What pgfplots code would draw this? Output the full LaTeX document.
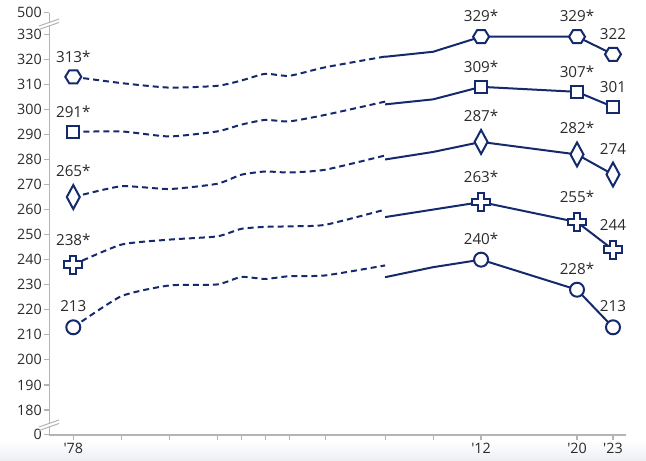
\documentclass[border=0pt]{standalone}
\usepackage{fontspec}
\setmainfont{Open Sans}[Ligatures=TeXOff]
\usepackage{pgfplots}
\usepackage{pgfplotstable}
\pgfplotsset{compat=1.18}
\definecolor{navy}{HTML}{15296D}
\definecolor{axgray}{HTML}{B4B4B4}
\definecolor{txt}{HTML}{2A2A2A}

\pgfdeclareplotmark{hexa}{%
 \pgfpathmoveto{\pgfqpoint{-8pt}{0pt}}%
 \pgfpathlineto{\pgfqpoint{-4pt}{6.5pt}}%
 \pgfpathlineto{\pgfqpoint{4pt}{6.5pt}}%
 \pgfpathlineto{\pgfqpoint{8pt}{0pt}}%
 \pgfpathlineto{\pgfqpoint{4pt}{-6.5pt}}%
 \pgfpathlineto{\pgfqpoint{-4pt}{-6.5pt}}%
 \pgfpathclose\pgfusepathqfillstroke}
\pgfdeclareplotmark{sq}{%
 \pgfpathrectangle{\pgfqpoint{-6pt}{-6pt}}{\pgfqpoint{12pt}{12pt}}%
 \pgfusepathqfillstroke}
\pgfdeclareplotmark{circ}{%
 \pgfpathcircle{\pgfpointorigin}{7pt}%
 \pgfusepathqfillstroke}
\pgfdeclareplotmark{dia}{%
 \pgfpathmoveto{\pgfqpoint{0pt}{12pt}}%
 \pgfpathlineto{\pgfqpoint{6.5pt}{0pt}}%
 \pgfpathlineto{\pgfqpoint{0pt}{-12pt}}%
 \pgfpathlineto{\pgfqpoint{-6.5pt}{0pt}}%
 \pgfpathclose\pgfusepathqfillstroke}
\pgfdeclareplotmark{crs}{%
 \pgfpathmoveto{\pgfqpoint{-3.2pt}{9pt}}%
 \pgfpathlineto{\pgfqpoint{3.2pt}{9pt}}%
 \pgfpathlineto{\pgfqpoint{3.2pt}{3.2pt}}%
 \pgfpathlineto{\pgfqpoint{9pt}{3.2pt}}%
 \pgfpathlineto{\pgfqpoint{9pt}{-3.2pt}}%
 \pgfpathlineto{\pgfqpoint{3.2pt}{-3.2pt}}%
 \pgfpathlineto{\pgfqpoint{3.2pt}{-9pt}}%
 \pgfpathlineto{\pgfqpoint{-3.2pt}{-9pt}}%
 \pgfpathlineto{\pgfqpoint{-3.2pt}{-3.2pt}}%
 \pgfpathlineto{\pgfqpoint{-9pt}{-3.2pt}}%
 \pgfpathlineto{\pgfqpoint{-9pt}{3.2pt}}%
 \pgfpathlineto{\pgfqpoint{-3.2pt}{3.2pt}}%
 \pgfpathclose\pgfusepathqfillstroke}

% old assessment format (dashed)
\pgfplotstableread{
year p10 p25 p50 p75 p90
1978 213 238 265 291 313
1982 225.4 246 269.3 291.2 310.5
1986 229.7 248 268.2 289.2 308.7
1990 230.1 249.3 270.3 291.2 309.4
1992 233.1 252.3 273.9 293.9 311.5
1994 232.3 253.1 275.2 295.8 314.2
1996 233.4 253.3 274.8 295.2 313.4
1999 233.7 253.9 275.9 297.8 316.8
2004 237.7 260 281.6 303.1 321.1
}\olddata
% revised assessment format (solid)
\pgfplotstableread{
year p10 p25 p50 p75 p90
2004 233 257 280 302 321
2008 237 260 283 304 323
2012 240 263 287 309 329
2020 228 255 282 307 329
2023 213 244 274 301 322
}\newdata
% labelled points
\pgfplotstableread{
year v l
1978 313 313*
2012 329 329*
2020 329 329*
2023 322 322
}\lninety
\pgfplotstableread{
year v l
1978 291 291*
2012 309 309*
2020 307 307*
2023 301 301
}\lseventyfive
\pgfplotstableread{
year v l
1978 265 265*
2012 287 287*
2020 282 282*
2023 274 274
}\lfifty
\pgfplotstableread{
year v l
1978 238 238*
2012 263 263*
2020 255 255*
2023 244 244
}\ltwentyfive
\pgfplotstableread{
year v l
1978 213 213
2012 240 240*
2020 228 228*
2023 213 213
}\lten

\begin{document}
\begin{tikzpicture}
\path[use as bounding box] (0pt,0pt) rectangle (646pt,461pt);
\shade[top color=white, bottom color={rgb,255:red,236;green,238;blue,242}] (0pt,0pt) rectangle (646pt,21pt);
\begin{axis}[
  at={(49.3pt,26pt)}, anchor=south west,
  scale only axis, width=576.3pt, height=422.3pt,
  xmin=1976, xmax=2024.05, ymin=170, ymax=338.6,
  axis x line*=bottom, axis y line*=left,
  axis line style={axgray, line width=1.5pt},
  tick align=outside, major tick length=5pt,
  tick style={axgray, line width=1.2pt},
  xtick={1978,1982,1986,1990,1992,1994,1996,1999,2004,2008,2012,2020,2023},
  xticklabels={\textquotesingle78,,,,,,,,,,\textquotesingle12,\textquotesingle20,\textquotesingle23},
  ytick={170.3,180,190,200,210,220,230,240,250,260,270,280,290,300,310,320,330,338.6},
  yticklabels={0,180,190,200,210,220,230,240,250,260,270,280,290,300,310,320,330,500},
  ticklabel style={font=\fontsize{14.3}{17}\selectfont, text=txt},
  yticklabel style={xshift=1pt},
  /pgf/number format/assume math mode=true,
  clip=false,
  every axis plot/.append style={navy, line width=2pt},
  point meta=explicit symbolic,
  nodes near coords,
  every node near coord/.append style={font=\fontsize{15.2}{18}\selectfont, text=txt, anchor=base, inner sep=0pt},
]
% dashed (old format)
\foreach \c in {p10,p25,p50,p75,p90}{
  \addplot[no marks, smooth, tension=0.35, dash pattern=on 6pt off 4pt, nodes near coords=] table[x=year, y=\c] {\olddata};
}
% solid (revised format)
\foreach \c in {p10,p25,p50,p75,p90}{
  \addplot[no marks, nodes near coords=] table[x=year, y=\c] {\newdata};
}
\addplot[only marks, mark=hexa, mark options={solid, fill=white, draw=navy, line width=2pt},
  every node near coord/.append style={yshift=14.8pt}] table[x=year, y=v, meta=l] {\lninety};
\addplot[only marks, mark=sq, mark options={solid, fill=white, draw=navy, line width=2pt},
  every node near coord/.append style={yshift=14.8pt}] table[x=year, y=v, meta=l] {\lseventyfive};
\addplot[only marks, mark=dia, mark options={solid, fill=white, draw=navy, line width=2pt},
  every node near coord/.append style={yshift=20.5pt}] table[x=year, y=v, meta=l] {\lfifty};
\addplot[only marks, mark=crs, mark options={solid, fill=white, draw=navy, line width=2pt},
  every node near coord/.append style={yshift=19.5pt}] table[x=year, y=v, meta=l] {\ltwentyfive};
\addplot[only marks, mark=circ, mark options={solid, fill=white, draw=navy, line width=2pt},
  every node near coord/.append style={yshift=15.5pt}] table[x=year, y=v, meta=l] {\lten};
\end{axis}
% axis breaks
\fill[white] (45pt,435.8pt) rectangle (54pt,439.2pt);
\draw[axgray, line width=1pt] (39pt,431.5pt) -- (59pt,438.5pt);
\draw[axgray, line width=1pt] (39pt,435pt) -- (59pt,442pt);
\fill[white] (45pt,34.8pt) rectangle (54pt,38.2pt);
\draw[axgray, line width=1pt] (39pt,30.5pt) -- (59pt,37.5pt);
\draw[axgray, line width=1pt] (39pt,34pt) -- (59pt,41pt);
\end{tikzpicture}
\end{document}
